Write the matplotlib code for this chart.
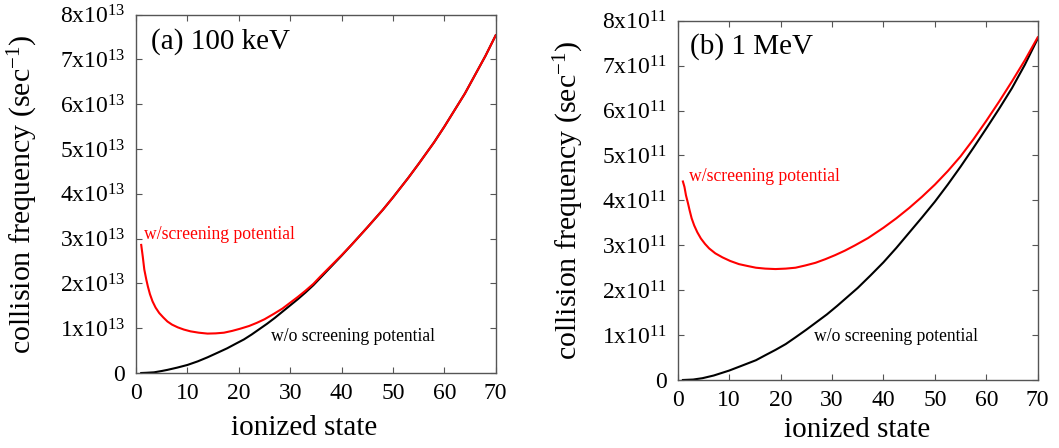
import numpy as np
import matplotlib
matplotlib.use('Agg')
import matplotlib.pyplot as plt

plt.rcParams['font.family'] = 'Liberation Serif'
plt.rcParams['mathtext.fontset'] = 'custom'
plt.rcParams['mathtext.rm'] = 'Liberation Serif'
plt.rcParams['mathtext.it'] = 'Liberation Serif:italic'

# (a) 100 keV, values in units of 1e13 /sec
z_a_scr = [1, 1.3, 1.6, 2, 2.3, 2.7, 3.2, 3.8, 4.5, 5.3, 6.1, 7, 8.1, 9.3, 10.6, 12.2,
           13.9, 15.5, 17.1, 18.7, 20.3, 22, 23.5, 25, 26.8, 28.5, 30, 31.5, 33, 34.5,
           36, 38, 40, 42, 45, 48, 50, 53, 55, 58, 60, 62, 64, 66, 68, 70]
nu_a_scr = [2.86, 2.6, 2.31, 2.08, 1.93, 1.76, 1.6, 1.46, 1.34, 1.24, 1.15, 1.08, 1.02,
            0.97, 0.93, 0.9, 0.88, 0.885, 0.9, 0.94, 0.99, 1.05, 1.12, 1.2, 1.32, 1.44,
            1.57, 1.7, 1.84, 1.99, 2.17, 2.4, 2.63, 2.87, 3.25, 3.64, 3.92, 4.36, 4.67,
            5.15, 5.5, 5.87, 6.24, 6.66, 7.08, 7.54]
z_a_bare = [1, 2, 3.5, 5, 6.1, 8, 10, 12, 13.9, 16, 17.7, 19.5, 21, 22.5, 24, 25.5, 27,
            28.5, 30, 31.5, 33, 34.5, 36, 38, 40, 42, 45, 48, 50, 53, 55, 58, 60, 62,
            64, 66, 68, 70]
nu_a_bare = [0.0, 0.005, 0.015, 0.045, 0.07, 0.12, 0.18, 0.26, 0.35, 0.46, 0.55, 0.66,
             0.75, 0.86, 0.98, 1.1, 1.23, 1.37, 1.51, 1.65, 1.8, 1.96, 2.14, 2.38, 2.62,
             2.87, 3.25, 3.64, 3.92, 4.36, 4.67, 5.15, 5.5, 5.87, 6.24, 6.66, 7.08, 7.54]

# (b) 1 MeV, values in units of 1e11 /sec
z_b_scr = [1, 1.3, 1.6, 2, 2.3, 2.7, 3.2, 3.8, 4.5, 5.3, 6.1, 7.3, 8.7, 10.2, 11.9, 13.5,
           15.2, 17, 19, 21, 22.9, 24.8, 26.8, 28.7, 30.6, 32.5, 34.5, 37, 40, 42.5, 45,
           47.5, 50, 52.5, 55, 57.5, 60, 62.5, 65, 67.5, 70]
nu_b_scr = [4.42, 4.3, 4.11, 3.93, 3.78, 3.6, 3.44, 3.29, 3.15, 3.03, 2.93, 2.82, 2.73,
            2.65, 2.58, 2.54, 2.5, 2.48, 2.47, 2.48, 2.5, 2.55, 2.61, 2.69, 2.78, 2.88,
            3.0, 3.16, 3.39, 3.6, 3.83, 4.08, 4.35, 4.65, 4.98, 5.36, 5.77, 6.2, 6.65,
            7.12, 7.63]
z_b_bare = [1, 3, 4.8, 7, 10, 12.5, 15.2, 17, 19, 21, 22.9, 25, 27, 29, 31, 33, 35, 37.5,
            40, 42.5, 45, 47.5, 50, 52.5, 55, 57.5, 60, 62.5, 65, 67.5, 70]
nu_b_bare = [0.0, 0.01, 0.04, 0.1, 0.21, 0.32, 0.44, 0.55, 0.67, 0.8, 0.95, 1.12, 1.29,
             1.46, 1.65, 1.85, 2.05, 2.33, 2.62, 2.94, 3.28, 3.62, 3.97, 4.35, 4.75,
             5.17, 5.6, 6.04, 6.5, 7.02, 7.6]

xticks = [0, 10, 20, 30, 40, 50, 60, 70]
yticks = [0, 1, 2, 3, 4, 5, 6, 7, 8]

fig = plt.figure(figsize=(10.59, 4.48), dpi=100)
ax1 = fig.add_axes([0.1285, 0.1674, 0.3396, 0.7998])
ax2 = fig.add_axes([0.640, 0.1518, 0.3399, 0.802])

panels = [
    (ax1, z_a_scr, nu_a_scr, z_a_bare, nu_a_bare, 13, '(a) 100 keV',
     (2.9, 7.39), (1.5, 3.1), (26.2, 0.81), -0.315, 0.467, -0.153),
    (ax2, z_b_scr, nu_b_scr, z_b_bare, nu_b_bare, 11, '(b) 1 MeV',
     (2.4, 7.42), (2.1, 4.53), (26.5, 0.96), -0.302, 0.497, -0.139),
]

for ax, zs, ns, zb, nb, exp, title, pos_t, pos_scr, pos_bare, ylx, xlx, xly in panels:
    ax.plot(zb, nb, color='black', lw=1.5)
    ax.plot(zs, ns, color='#ff0000', lw=1.5)
    ax.set_xlim(0, 70)
    ax.set_ylim(0, 8)
    ax.set_xticks(xticks)
    ax.set_yticks(yticks)
    ax.set_yticklabels(['0'] + ['%dx10$^{%d}$' % (v, exp) for v in yticks[1:]])
    ax.tick_params(direction='in', length=4, width=0.8, top=True, right=True,
                   labelsize=17, color='#555555')
    ax.tick_params(axis='y', pad=8)
    ax.tick_params(axis='x', pad=7)
    for s in ax.spines.values():
        s.set_color('#555555')
        s.set_linewidth(1.0)
    ax.set_xlabel('ionized state', fontsize=21, va='center')
    ax.xaxis.set_label_coords(xlx, xly)
    ax.set_ylabel('collision frequency (sec$^{-1}$)', fontsize=21.5, va='center')
    ax.yaxis.set_label_coords(ylx, 0.5)
    ax.text(pos_t[0], pos_t[1], title, fontsize=21, va='center', ha='left')
    ax.text(pos_scr[0], pos_scr[1], 'w/screening potential', color='#ff0000',
            fontsize=12.7, va='center', ha='left')
    ax.text(pos_bare[0], pos_bare[1], 'w/o screening potential', color='black',
            fontsize=12.7, va='center', ha='left')

fig.savefig('out.png', dpi=100)
